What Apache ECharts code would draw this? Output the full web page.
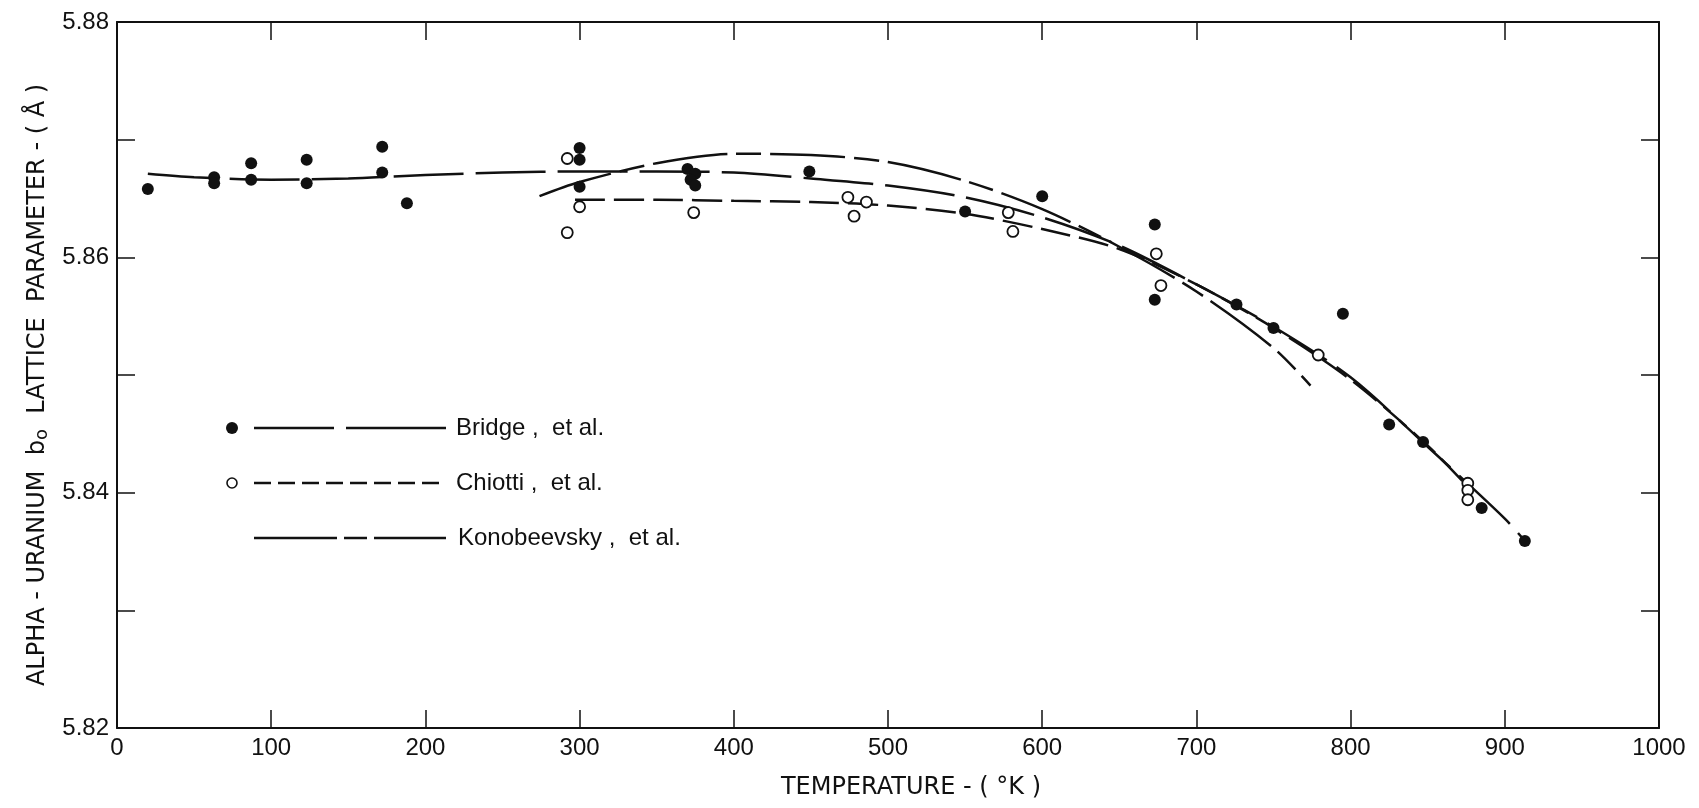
<!DOCTYPE html>
<html>
<head>
<meta charset="utf-8">
<title>Alpha-uranium b0 lattice parameter</title>
<script src="https://cdn.jsdelivr.net/npm/echarts@6/dist/echarts.min.js"></script>
<style>
  html, body { margin: 0; padding: 0; background: #fff; }
  #main { width: 1699px; height: 808px; }
</style>
</head>
<body>
<div id="main"></div>
<script>
// measured points, Bridge et al. (filled dots)
const bridgeTemp  = [20, 63, 63, 87, 87, 123, 123, 172, 172, 188, 300, 300, 300, 370, 375, 372, 375, 449, 550, 600, 673, 673, 726, 750, 795, 825, 847, 885, 913];
const bridgeParam = [5.8658, 5.8668, 5.8663, 5.8680, 5.8666, 5.8683, 5.8663, 5.8694, 5.8672, 5.8646, 5.8693, 5.8683, 5.8660, 5.8675, 5.8671, 5.8666, 5.8661, 5.8673, 5.8639, 5.8652, 5.8628, 5.8564, 5.8560, 5.8540, 5.8552, 5.8458, 5.8443, 5.8387, 5.8359];

// measured points, Chiotti et al. (open circles)
const chiottiTemp  = [292, 292, 300, 374, 474, 486, 478, 578, 581, 674, 677, 779, 876, 876, 876];
const chiottiParam = [5.8684, 5.8621, 5.8643, 5.8638, 5.8651, 5.8647, 5.8635, 5.8638, 5.8622, 5.8603, 5.8576, 5.8517, 5.8408, 5.8402, 5.8394];

// curves as drawn in the figure, read every ~50 K
const bridgeCurveTemp  = [20, 50, 100, 150, 200, 250, 300, 350, 400, 450, 500, 550, 600, 650, 700, 750, 800, 850, 900, 913];
const bridgeCurveParam = [5.8671, 5.8668, 5.8666, 5.8667, 5.8670, 5.8672, 5.8673, 5.8673, 5.8672, 5.8667, 5.8661, 5.8651, 5.8634, 5.8610, 5.8577, 5.8541, 5.8498, 5.8439, 5.8378, 5.8359];

const chiottiCurveTemp  = [297, 350, 400, 450, 500, 550, 600, 650, 700, 750, 800, 850, 876];
const chiottiCurveParam = [5.8649, 5.8649, 5.8648, 5.8647, 5.8644, 5.8637, 5.8624, 5.8607, 5.8577, 5.8540, 5.8496, 5.8440, 5.8405];

const konoCurveTemp  = [274, 300, 350, 400, 450, 500, 550, 600, 650, 700, 750, 774];
const konoCurveParam = [5.8652, 5.8664, 5.8680, 5.8688, 5.8687, 5.8681, 5.8665, 5.8641, 5.8609, 5.8571, 5.8523, 5.8491];

const yTickLabels = ['5.82', '5.84', '5.86', '5.88'];
const legendNames = ['Bridge ,  et al.', 'Chiotti ,  et al.', 'Konobeevsky ,  et al.'];

const ink = '#111';
const font = '"Liberation Sans", Arial, Helvetica, sans-serif';
const titleFont = '"DejaVu Sans", "Liberation Sans", sans-serif';
const zip = (xs, ys) => xs.map((x, i) => [x, ys[i]]);

const chart = echarts.init(document.getElementById('main'));

const tickStyle = { inside: true, length: 18, lineStyle: { color: ink, width: 1.5 } };
const lineStyle = { show: true, onZero: false, lineStyle: { color: ink, width: 2 } };

const option = {
  backgroundColor: '#fff',
  animation: false,
  grid: { left: 117, right: 40, top: 22, bottom: 80 },
  xAxis: [{
    type: 'value', min: 0, max: 1000, interval: 100, position: 'bottom',
    axisLine: lineStyle, axisTick: tickStyle, splitLine: { show: false },
    axisLabel: { margin: 8, fontSize: 24, color: ink, fontFamily: font, formatter: v => String(v) },
    name: 'TEMPERATURE - ( °K )', nameLocation: 'middle', nameGap: 48,
    nameTextStyle: { fontSize: 24, color: ink, fontFamily: titleFont, padding: [0, 0, 0, 46] }
  }, {
    type: 'value', min: 0, max: 1000, interval: 100, position: 'top',
    axisLine: lineStyle, axisTick: tickStyle, splitLine: { show: false },
    axisLabel: { show: false }
  }],
  yAxis: [{
    type: 'value', min: 5.82, max: 5.88, interval: 0.01, position: 'left',
    axisLine: lineStyle, axisTick: tickStyle, splitLine: { show: false },
    axisLabel: {
      margin: 8, fontSize: 24, color: ink, fontFamily: font,
      formatter: v => {
        const s = v.toFixed(2);
        return yTickLabels.indexOf(s) >= 0 ? s : '';
      }
    },
    name: 'ALPHA - URANIUM  b{sub|o}  LATTICE  PARAMETER - ( Å )', nameLocation: 'middle', nameGap: 64,
    nameTextStyle: {
      fontSize: 24, color: ink, fontFamily: titleFont, padding: [0, 20, 0, 0],
      rich: { sub: { fontSize: 18, color: ink, fontFamily: titleFont, padding: [10, 0, 0, 0] } }
    }
  }, {
    type: 'value', min: 5.82, max: 5.88, interval: 0.01, position: 'right',
    axisLine: lineStyle, axisTick: tickStyle, splitLine: { show: false },
    axisLabel: { show: false }
  }],
  series: [
    {
      name: 'Bridge curve', type: 'line', data: zip(bridgeCurveTemp, bridgeCurveParam),
      smooth: 0.3, showSymbol: false, z: 2,
      lineStyle: { color: ink, width: 2.5, type: [70, 12] }
    },
    {
      name: 'Chiotti curve', type: 'line', data: zip(chiottiCurveTemp, chiottiCurveParam),
      smooth: 0.3, showSymbol: false, z: 2,
      lineStyle: { color: ink, width: 2.5, type: [30, 9] }
    },
    {
      name: 'Konobeevsky curve', type: 'line', data: zip(konoCurveTemp, konoCurveParam),
      smooth: 0.3, showSymbol: false, z: 2,
      lineStyle: { color: ink, width: 2.5, type: [75, 9, 25, 9] }
    },
    {
      name: 'Bridge', type: 'scatter', data: zip(bridgeTemp, bridgeParam),
      symbol: 'circle', symbolSize: 12, z: 4,
      itemStyle: { color: ink, opacity: 1 }
    },
    {
      name: 'Chiotti', type: 'scatter', data: zip(chiottiTemp, chiottiParam),
      symbol: 'circle', symbolSize: 11, z: 5,
      itemStyle: { color: '#fff', borderColor: ink, borderWidth: 1.8, opacity: 1 }
    }
  ],
  // hand-drawn key of the original figure
  graphic: [
    { type: 'circle', shape: { cx: 232, cy: 428, r: 6 }, style: { fill: ink } },
    { type: 'line', shape: { x1: 254, y1: 428, x2: 446, y2: 428 }, style: { stroke: ink, lineWidth: 2.5, lineDash: [80, 12, 100, 12] } },
    { type: 'text', x: 456, y: 428, style: { text: legendNames[0], fontSize: 24, fontFamily: font, fill: ink, verticalAlign: 'middle' } },

    { type: 'circle', shape: { cx: 232, cy: 483, r: 5 }, style: { fill: '#fff', stroke: ink, lineWidth: 1.6 } },
    { type: 'line', shape: { x1: 254, y1: 483, x2: 446, y2: 483 }, style: { stroke: ink, lineWidth: 2.5, lineDash: [17, 7] } },
    { type: 'text', x: 456, y: 483, style: { text: legendNames[1], fontSize: 24, fontFamily: font, fill: ink, verticalAlign: 'middle' } },

    { type: 'line', shape: { x1: 254, y1: 538, x2: 446, y2: 538 }, style: { stroke: ink, lineWidth: 2.5, lineDash: [83, 7, 23, 7] } },
    { type: 'text', x: 458, y: 538, style: { text: legendNames[2], fontSize: 24, fontFamily: font, fill: ink, verticalAlign: 'middle' } }
  ]
};

chart.setOption(option);
</script>
</body>
</html>
